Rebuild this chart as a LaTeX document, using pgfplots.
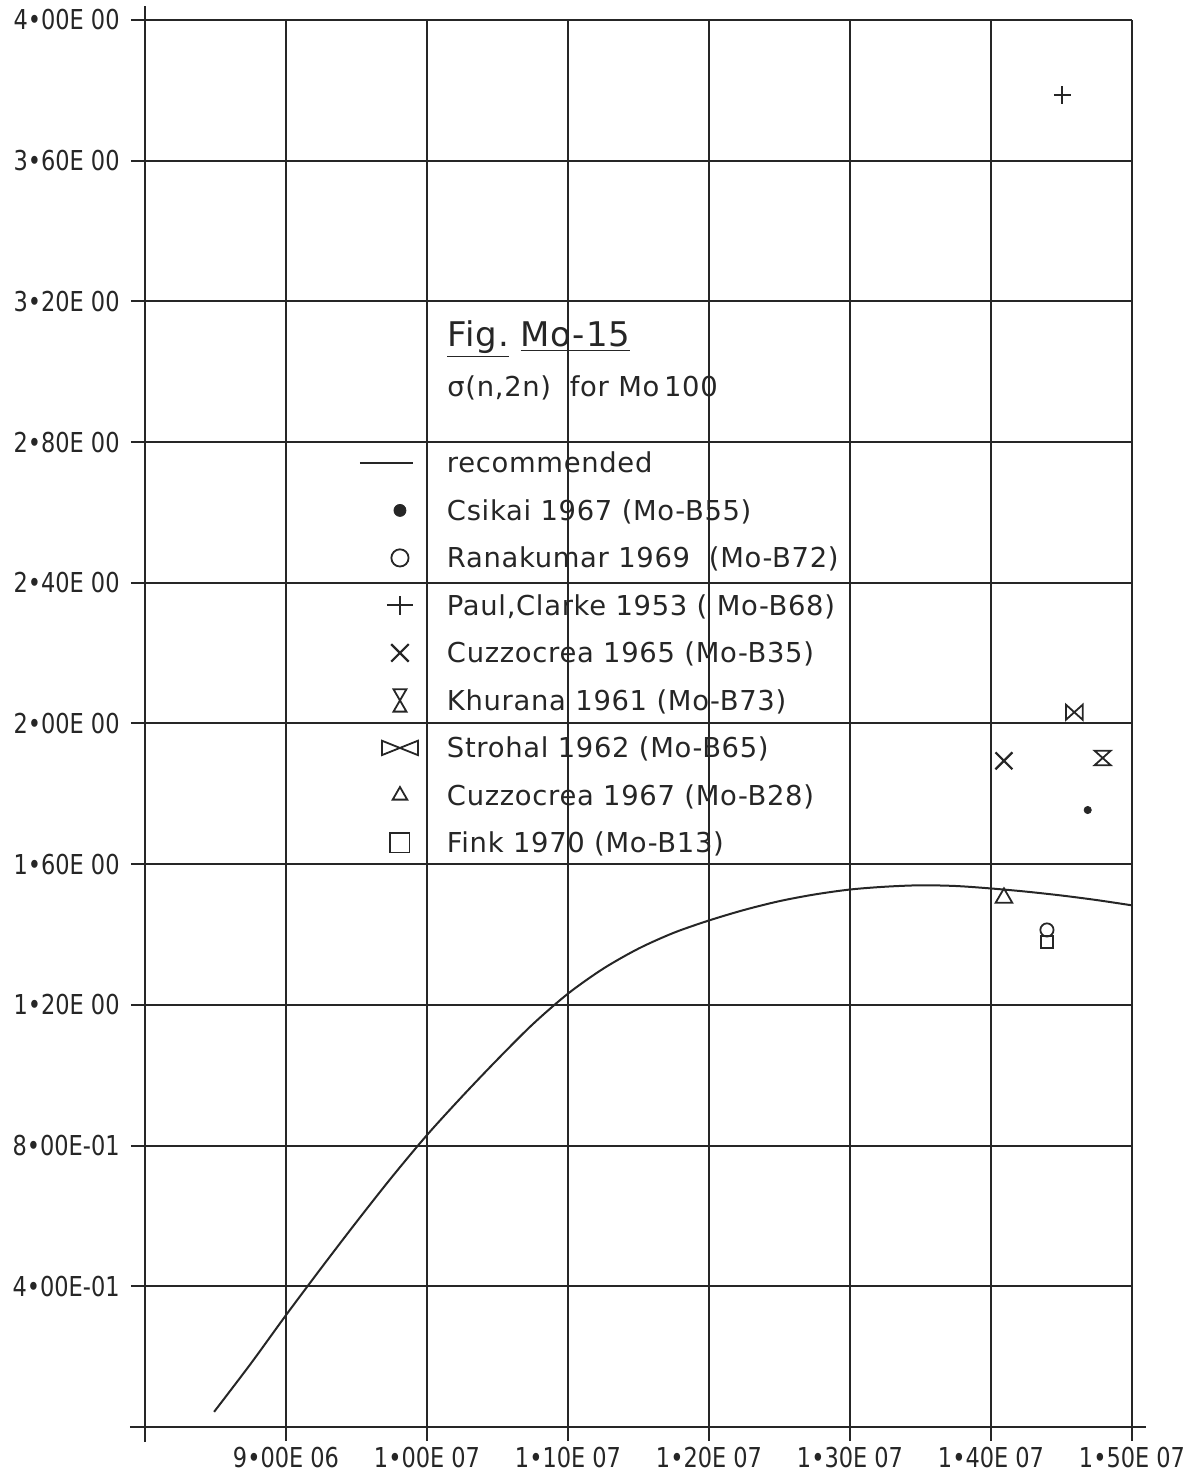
\documentclass[border=0pt]{standalone}
\usepackage{pgfplots}
\pgfplotsset{compat=1.18}
\usepackage{fontspec}
\setmainfont{DejaVu Sans}
\newfontfamily\tickfont[FakeStretch=0.82]{DejaVu Sans}
\newfontfamily\legfont[LetterSpace=2.5]{DejaVu Sans}
\usetikzlibrary{plotmarks}

% plotter symbols: hourglass and bow tie
\pgfdeclareplotmark{hourglass}{%
  \pgfpathmoveto{\pgfqpoint{-\pgfplotmarksize}{\pgfplotmarksize}}%
  \pgfpathlineto{\pgfqpoint{\pgfplotmarksize}{\pgfplotmarksize}}%
  \pgfpathlineto{\pgfqpoint{-\pgfplotmarksize}{-\pgfplotmarksize}}%
  \pgfpathlineto{\pgfqpoint{\pgfplotmarksize}{-\pgfplotmarksize}}%
  \pgfpathclose\pgfusepathqstroke}
\pgfdeclareplotmark{bowtie}{%
  \pgfpathmoveto{\pgfqpoint{-\pgfplotmarksize}{\pgfplotmarksize}}%
  \pgfpathlineto{\pgfqpoint{-\pgfplotmarksize}{-\pgfplotmarksize}}%
  \pgfpathlineto{\pgfqpoint{\pgfplotmarksize}{\pgfplotmarksize}}%
  \pgfpathlineto{\pgfqpoint{\pgfplotmarksize}{-\pgfplotmarksize}}%
  \pgfpathclose\pgfusepathqstroke}

% fixed, invisible box for every key symbol cell
\newcommand{\keybox}{%
  \pgfpathrectangle{\pgfpoint{-20pt}{-5pt}}{\pgfpoint{28pt}{10pt}}%
  \pgfusepath{discard}}

\pgfplotsset{
  keymark/.style={legend image code/.code={%
      \draw[##1,overlay,#1] plot coordinates {(0pt,0pt)};\keybox}},
  keyline/.style={legend image code/.code={%
      \draw[##1,overlay] (-20pt,0pt) -- (6.5pt,0pt);\keybox}},
}

% recommended sigma(n,2n) curve, energy in eV, cross section in b
\pgfplotstableread{
E        sig
8.49e6   0.043
8.75e6   0.180
9.00e6   0.318
9.25e6   0.452
9.50e6   0.583
9.75e6   0.710
1.000e7  0.830
1.025e7  0.940
1.050e7  1.045
1.075e7  1.145
1.100e7  1.232
1.125e7  1.303
1.150e7  1.360
1.175e7  1.405
1.200e7  1.440
1.225e7  1.470
1.250e7  1.495
1.275e7  1.514
1.300e7  1.528
1.325e7  1.536
1.350e7  1.540
1.375e7  1.538
1.400e7  1.531
1.425e7  1.522
1.450e7  1.511
1.475e7  1.498
1.500e7  1.483
}\recommended

\begin{document}
\begin{tikzpicture}
\begin{axis}[
  scale only axis,
  width=493.5pt, height=703.5pt,
  xmin=8e6, xmax=1.5e7, ymin=0, ymax=4,
  axis lines=left,
  axis line style={-, line width=1.4pt, black!85,
    shorten >=-7pt, shorten <=-7.5pt},
  scaled ticks=false,
  xtick={9e6,1e7,1.1e7,1.2e7,1.3e7,1.4e7,1.5e7},
  xticklabels={9•00E 06,1•00E 07,1•10E 07,1•20E 07,1•30E 07,1•40E 07,1•50E 07},
  ytick={0.4,0.8,1.2,1.6,2.0,2.4,2.8,3.2,3.6,4.0},
  yticklabels={4•00E-01,8•00E-01,1•20E 00,1•60E 00,2•00E 00,2•40E 00,2•80E 00,3•20E 00,3•60E 00,4•00E 00},
  tick align=outside,
  major tick length=7pt,
  tick style={line width=1pt, black!85},
  grid=major,
  major grid style={line width=1pt, black!85},
  ticklabel style={font=\tickfont\fontsize{13.7}{14}\selectfont, inner sep=0pt, text=black!85},
  xticklabel style={anchor=north, yshift=-3pt},
  yticklabel style={anchor=east, xshift=-5.5pt},
  legend style={at={(axis description cs:0.2178,0.6923)}, anchor=north west,
    draw=none, fill=none, inner sep=0pt, outer sep=0pt,
    row sep=13.75pt, column sep=15.5pt,
    nodes={inner sep=0pt, text height=10pt, text depth=0pt,
      font=\legfont\fontsize{13.7}{16}\selectfont, text=black!85}},
  legend cell align=left,
]
\addplot[black!85, line width=1pt, smooth, no marks, keyline]
  table[x=E, y=sig] {\recommended};
\addlegendentry{recommended}

\addplot[black!85, only marks, mark=*, mark size=1.8pt,
  keymark={mark size=3pt}]
  coordinates {(1.4686e7,1.754)};
\addlegendentry{Csikai 1967 (Mo-B55)}

\addplot[black!85, only marks, mark=o, mark size=3.3pt, line width=0.9pt,
  keymark={mark size=4.3pt}]
  coordinates {(1.4397e7,1.413)};
\addlegendentry{Ranakumar 1969\ \ (Mo-B72)}

\addplot[black!85, only marks, mark=+, mark size=4.3pt, line width=1pt,
  keymark={mark size=6.5pt, mark options={yscale=0.7}}]
  coordinates {(1.4507e7,3.787)};
\addlegendentry{Paul,Clarke 1953 (\ Mo-B68)}

\addplot[black!85, only marks, mark=x, mark size=6pt, line width=1.1pt,
  keymark={mark size=6.2pt}]
  coordinates {(1.4092e7,1.894)};
\addlegendentry{Cuzzocrea 1965 (Mo-B35)}

\addplot[black!85, only marks, mark=hourglass, mark size=4pt, line width=0.9pt,
  mark options={yscale=0.9},
  keymark={mark size=5.6pt, mark options={xscale=0.58}}]
  coordinates {(1.4792e7,1.902)};
\addlegendentry{Khurana 1961 (Mo-B73)}

\addplot[black!85, only marks, mark=bowtie, mark size=4.2pt, line width=0.9pt,
  mark options={yscale=0.9},
  keymark={mark size=9pt, mark options={yscale=0.4}}]
  coordinates {(1.4591e7,2.032)};
\addlegendentry{Strohal 1962 (Mo-B65)}

\addplot[black!85, only marks, mark=triangle, mark size=4.8pt, line width=0.9pt,
  keymark={mark size=4.2pt}]
  coordinates {(1.4092e7,1.504)};
\addlegendentry{Cuzzocrea 1967 (Mo-B28)}

\addplot[black!85, only marks, mark=square, mark size=3.1pt, line width=0.9pt,
  keymark={mark size=4.8pt}]
  coordinates {(1.4397e7,1.379)};
\addlegendentry{Fink 1970 (Mo-B13)}
\end{axis}

% heading above the key
\node[anchor=base west, inner sep=0pt, text=black!85,
  font=\legfont\fontsize{17}{20}\selectfont] at (151pt,540pt)
  {\underline{Fig.}\ \underline{Mo-15}};
\node[anchor=base west, inner sep=0pt, text=black!85,
  font=\legfont\fontsize{13.7}{16}\selectfont] at (151pt,515pt)
  {σ(n,2n)\ \ for Mo\,100};

\pgfresetboundingbox
\path[use as bounding box] (-72.5pt,-25pt) rectangle (523pt,713.5pt);
\end{tikzpicture}
\end{document}
